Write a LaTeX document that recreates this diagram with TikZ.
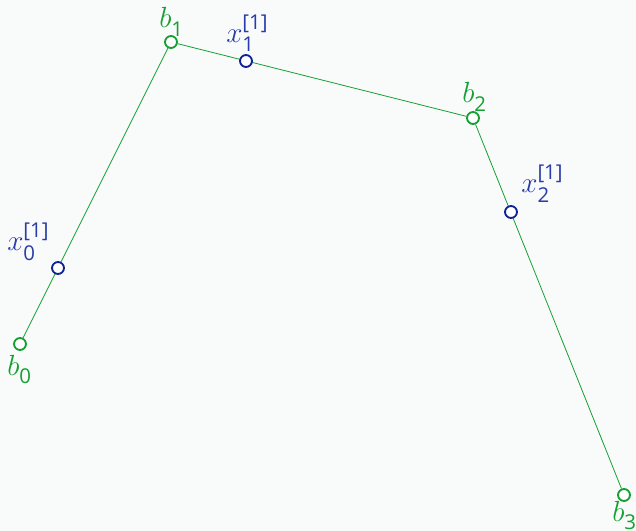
\documentclass[tikz,border=0pt]{standalone}
\usepackage{fix-cm}
\usepackage{amsmath}
\usepackage{fontspec}
\setmainfont{Open Sans}
\usetikzlibrary{positioning}
\definecolor{ptgreen}{RGB}{20,160,50}
\definecolor{ptblue}{RGB}{15,35,150}
\definecolor{lblblue}{RGB}{40,60,170}
\definecolor{bgcol}{RGB}{249,250,250}
\newcommand{\lab}[3]{$#1_{\text{#2}}^{\text{#3}}$}

\begin{document}
\begin{tikzpicture}[x=0.0265cm,y=-0.0265cm,
  bpt/.style={circle,draw=ptgreen,fill=white,line width=1.4pt,inner sep=0pt,minimum size=9pt},
  xpt/.style={circle,draw=ptblue,fill=white,line width=1.4pt,inner sep=0pt,minimum size=9pt},
  blab/.style={text=ptgreen,font=\fontsize{22}{26}\selectfont,inner sep=0pt,anchor=base west},
  xlab/.style={text=lblblue,font=\fontsize{22}{26}\selectfont,inner sep=0pt,anchor=base west}]
  \fill[bgcol] (0,0) rectangle (636,531);
  \useasboundingbox (0,0) rectangle (636,531);
  % control points
  \node[bpt] (B0) at (20,344) {};
  \node[bpt] (B1) at (171,42) {};
  \node[bpt] (B2) at (473,118) {};
  \node[bpt] (B3) at (624,495) {};
  % control polygon
  \draw[ptgreen,line width=0.6pt] (B0) -- (B1) -- (B2) -- (B3);
  % subdivision points
  \node[xpt] (X0) at (58,268) {};
  \node[xpt] (X1) at (246,61) {};
  \node[xpt] (X2) at (511,212) {};
  % labels
  \node[blab] (L0) at (7,375) {\lab{b}{0}{}};
  \node[blab] (L1) at (159,28) {\lab{b}{1}{}};
  \node[blab] (L2) at (462,103) {\lab{b}{2}{}};
  \node[blab] (L3) at (612,521) {\lab{b}{3}{}};
  \node[xlab] (M0) at (7,251) {\lab{x}{0}{[1]}};
  \node[xlab] (M1) at (226,43) {\lab{x}{1}{[1]}};
  \node[xlab] (M2) at (521,193) {\lab{x}{2}{[1]}};
\end{tikzpicture}
\end{document}
